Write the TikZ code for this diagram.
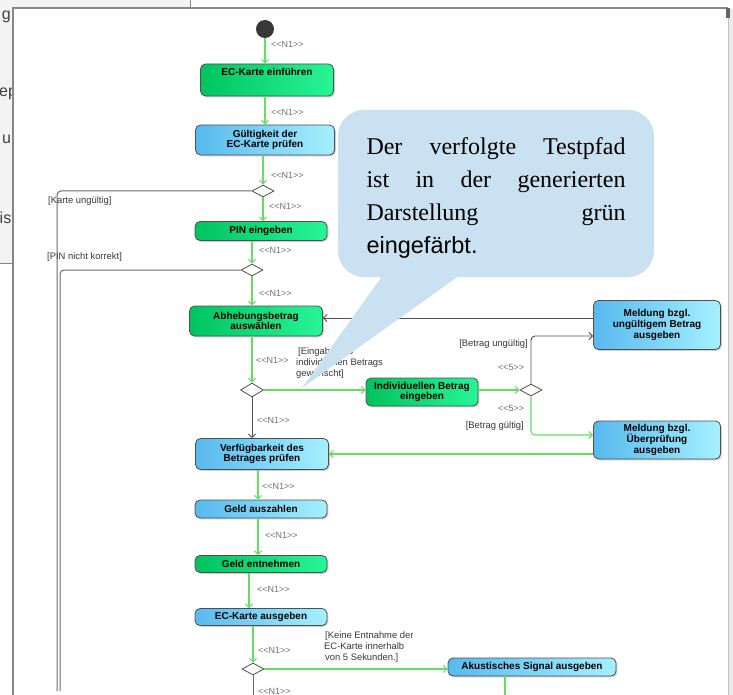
\documentclass[tikz,border=0pt]{standalone}
\usepackage{fontspec}
\setmainfont{Liberation Serif}
\setsansfont{Liberation Sans}
\usetikzlibrary{shapes.geometric,arrows.meta,shadows}
\definecolor{gline}{RGB}{100,222,100}
\definecolor{bline}{RGB}{80,80,80}
\definecolor{grL}{RGB}{0,195,95}
\definecolor{grR}{RGB}{40,245,150}
\definecolor{blL}{RGB}{88,185,238}
\definecolor{blR}{RGB}{165,240,255}
\definecolor{bub}{RGB}{201,225,241}
\definecolor{bgg}{RGB}{243,243,243}
\definecolor{frm}{RGB}{135,135,135}
\newcommand\nnI{<\kern0pt<N1>\kern0pt>}
\newcommand\nnV{<\kern0pt<5>\kern0pt>}
\begin{document}
\begin{tikzpicture}[x=1pt,y=-1pt,
  act/.style={draw=bline, rounded corners=5pt, line width=0.8pt, align=center,
    font=\sffamily\bfseries\fontsize{10}{10.8}\selectfont, inner sep=1pt,
    drop shadow={shadow xshift=1.3pt,shadow yshift=-1.3pt,opacity=0.35,fill=black!55}},
  gact/.style={act, left color=grL, right color=grR},
  bact/.style={act, left color=blL, right color=blR},
  wh/.style 2 args={minimum width=#1pt, minimum height=#2pt},
  dec/.style={diamond, draw=bline, fill=white, line width=0.8pt, minimum width=22pt, minimum height=12pt, inner sep=0pt},
  garr/.style={draw=gline, line width=1.1pt, -{Straight Barb[length=3.5pt,width=7pt]}},
  barr/.style={draw=bline, line width=0.9pt, -{Straight Barb[length=3.5pt,width=7pt]}},
  gln/.style={draw=gline, line width=1.1pt},
  bln/.style={draw=bline!85, line width=1pt},
  lbl/.style={font=\sffamily\fontsize{9.4}{11}\selectfont, text=black!78, inner sep=0pt, align=left},
  nlbl/.style={font=\sffamily\fontsize{9}{11}\selectfont, text=black!55, inner sep=0pt, anchor=west},
  bgt/.style={font=\sffamily\fontsize{16}{18}\selectfont, text=black!75, inner sep=0pt}
]
\useasboundingbox (0,0) rectangle (733,695);
% background window pieces
\fill[white] (0,0) rectangle (733,695);
\fill[bgg] (0,0) rectangle (190,8);
\fill[bgg] (0,8) rectangle (13,263);
\draw[frm, line width=1pt] (190,0) -- (190,8);
\draw[frm, line width=1pt] (0,263) -- (13,263);
\begin{scope}
\clip (0,0) rectangle (12.5,262);
\node[bgt, anchor=base east] (t1) at (11,20) {g};
\node[bgt, anchor=base west] (t2) at (-1,97) {ep};
\node[bgt, anchor=base west] (t3) at (2,144) {u};
\node[bgt, anchor=base west] (t4) at (-0.5,223) {ist};
\end{scope}
\fill[black!8] (729,9) rectangle (733,695);
\draw[frm, line width=2pt] (13,695) -- (13,8) -- (728,8);
\draw[black!25, line width=1pt] (728,8) -- (728,695);
\fill[black!60] (726,8) rectangle (730,18);

% nodes
\node[circle, fill=black!78, minimum size=18pt, inner sep=0pt] (init) at (265,29) {};
\node[gact, wh={133}{32}, text height=11pt, text depth=19pt] (n1) at (267,80) {EC-Karte einführen};
\node[bact, wh={139}{30}] (n2) at (265,140) {Gültigkeit der\\EC-Karte prüfen};
\node[dec] (d1) at (263,191) {};
\node[gact, wh={132}{19}] (n3) at (261,231) {PIN eingeben};
\node[dec] (d2) at (252,270) {};
\node[gact, wh={133}{30}] (n4) at (256,321) {Abhebungsbetrag\\auswählen};
\node[dec, minimum width=23pt, minimum height=14pt] (d3) at (252,390) {};
\node[gact, wh={112}{28}] (n5) at (422,392) {Individuellen Betrag\\eingeben};
\node[dec] (d4) at (531,390) {};
\node[bact, wh={127}{49}] (n6) at (657,325) {Meldung bzgl.\\ungültigem Betrag\\ausgeben};
\node[bact, wh={127}{38}] (n7) at (657,440) {Meldung bzgl.\\Überprüfung\\ausgeben};
\node[bact, wh={133}{31}] (n8) at (262,454) {Verfügbarkeit des\\Betrages prüfen};
\node[bact, wh={132}{18}] (n9) at (261,509) {Geld auszahlen};
\node[gact, wh={132}{17}] (n10) at (261,564) {Geld entnehmen};
\node[bact, wh={132}{17}] (n11) at (261,617) {EC-Karte ausgeben};
\node[dec] (d5) at (253,669) {};
\node[bact, wh={168}{18}] (n12) at (532,667) {Akustisches Signal ausgeben};

\coordinate (e1) at (253,695);
\coordinate (e2) at (505,695);
\coordinate (e3) at (57,691);
\coordinate (e4) at (60,691);

% connectors
\draw[garr] (init) -- (init |- n1.north);
\draw[garr] (n2.north |- n1.south) -- (n2.north);
\draw[garr] (d1 |- n2.south) -- (d1.north);
\draw[garr] (d1.south) -- (d1.south |- n3.north);
\draw[bln, rounded corners=4pt] (d1.west) -| (e3);
\draw[garr] (d2 |- n3.south) -- (d2.north);
\draw[bln, rounded corners=4pt] (d2.west) -| (e4);
\draw[garr] (d2.south) -- (d2.south |- n4.north);
\draw[garr] (d3 |- n4.south) -- (d3.north);
\draw[garr] (d3.east) -- (d3.east -| n5.west);
\draw[barr] (d3.south) -- (d3.south |- n8.north);
\draw[garr] (n5.east |- d4) -- (d4.west);
\draw[barr, rounded corners=4pt] (d4.north) |- ([yshift=-11pt]n6.west);
\draw[garr, rounded corners=4pt] (d4.south) |- ([yshift=5pt]n7.west);
\draw[barr] ([yshift=7pt]n6.west) -- ([yshift=7pt]n6.west -| n4.east);
\draw[garr] (n7.west |- n8.east) -- (n8.east);
\draw[garr] ([xshift=-4pt]n8.south) -- ([xshift=-4pt]n8.south |- n9.north);
\draw[garr] ([xshift=-3pt]n9.south) -- ([xshift=-3pt]n9.south |- n10.north);
\draw[garr] ([xshift=-12pt]n10.south) -- ([xshift=-12pt]n10.south |- n11.north);
\draw[garr] (d5 |- n11.south) -- (d5.north);
\draw[garr] (d5.east) -- (d5.east -| n12.west);
\draw[bln] (d5.south) -- (e1);
\draw[gln] (e2 |- n12.south) -- (e2);

% labels
\node[nlbl] (l1) at (271,44) {\nnI};
\node[nlbl] (l2) at (271,112) {\nnI};
\node[nlbl] (l3) at (271,175) {\nnI};
\node[nlbl] (l4) at (269,206) {\nnI};
\node[nlbl] (l5) at (259,250) {\nnI};
\node[nlbl] (l6) at (259,293) {\nnI};
\node[nlbl] (l7) at (256,360) {\nnI};
\node[nlbl] (l8) at (257,420) {\nnI};
\node[nlbl] (l9) at (262,486) {\nnI};
\node[nlbl] (l10) at (265,535) {\nnI};
\node[nlbl] (l11) at (257,589) {\nnI};
\node[nlbl] (l12) at (258,650) {\nnI};
\node[nlbl] (l13) at (258,691) {\nnI};
\node[nlbl] (l14) at (498,367) {\nnV};
\node[nlbl] (l15) at (498,408) {\nnV};
\node[lbl, anchor=west] (g1) at (48,201) {[Karte ungültig]};
\node[lbl, anchor=west] (g2) at (47,257) {[PIN nicht korrekt]};
\node[lbl, anchor=east] (g3) at (528,344) {[Betrag ungültig]};
\node[lbl, anchor=east] (g4) at (524,426) {[Betrag gültig]};
\node[lbl, anchor=north west] (g5) at (296,347) {\hspace*{2pt}[Eingabe des\\individuellen Betrags\\gewünscht]};
\node[lbl, anchor=north west] (g6) at (324,631) {\hspace*{1pt}[Keine Entnahme der\\EC-Karte innerhalb\\\hspace*{1pt}von 5 Sekunden.]};

% speech bubble
\fill[bub] (388,268) -- (302,388) -- (470,268) -- cycle;
\node[fill=bub, rounded corners=26pt, minimum width=316pt, minimum height=167pt, inner sep=0pt] (bubble) at (496,193.5)
 {\parbox{259pt}{\vspace*{8pt}\fontsize{24}{33}\selectfont Der verfolgte Testpfad\linebreak ist in der generierten\linebreak Darstellung grün\linebreak{\sffamily\fontsize{23.5}{33}\selectfont eingefärbt.}}};
\end{tikzpicture}
\end{document}
